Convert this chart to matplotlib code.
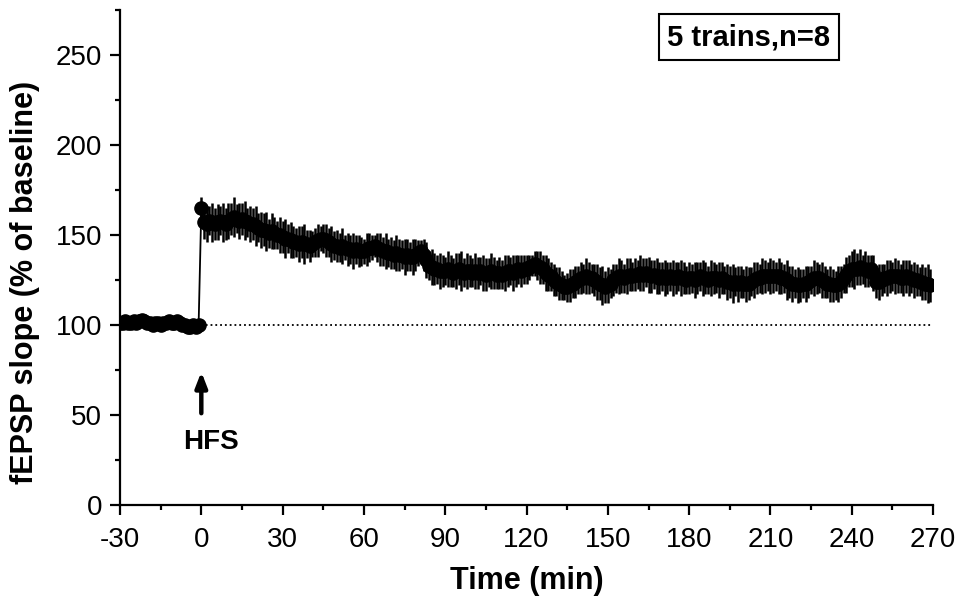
import numpy as np
import matplotlib
matplotlib.use('Agg')
import matplotlib.pyplot as plt
from matplotlib.ticker import MultipleLocator

plt.rcParams['font.family'] = ['Liberation Sans', 'DejaVu Sans']
plt.rcParams['axes.unicode_minus'] = False

# baseline, one point per minute (-30 .. -1)
base_time = list(range(-30, 0))
base_mean = [101, 101, 102, 101, 101, 102, 101, 102, 103, 102,
             101, 101, 100, 101, 101, 100, 101, 101, 102, 101,
             101, 102, 101, 100, 100, 99, 99, 100, 99, 100]
base_sem = [2, 3, 2, 3, 2, 2, 3, 2, 3, 2,
            2, 3, 2, 2, 3, 2, 2, 3, 2, 2,
            3, 2, 2, 3, 2, 3, 3, 2, 3, 2]

# after HFS, one point per minute (0 .. 269)
post_time = list(range(0, 270))
post_mean = [165, 157, 156, 158, 157, 156, 157, 158, 157, 156,
             158, 159, 160, 159, 158, 159, 158, 157, 156, 156,
             155, 154, 153, 153, 152, 151, 152, 151, 150, 150,
             149, 148, 148, 147, 146, 146, 145, 146, 145, 145,
             144, 145, 146, 147, 148, 148, 147, 146, 145, 144,
             144, 143, 144, 143, 142, 142, 141, 142, 141, 141,
             141, 142, 143, 143, 144, 143, 142, 141, 141, 140,
             140, 139, 140, 139, 139, 138, 139, 138, 138, 139,
             140, 141, 139, 136, 133, 132, 131, 131, 130, 130,
             130, 131, 130, 129, 130, 131, 130, 129, 130, 130,
             129, 130, 129, 130, 129, 128, 129, 130, 129, 128,
             129, 128, 129, 130, 130, 129, 130, 131, 130, 131,
             131, 132, 133, 134, 133, 132, 131, 129, 128, 127,
             125, 124, 123, 122, 121, 121, 122, 123, 124, 125,
             126, 126, 127, 126, 126, 125, 124, 123, 122, 121,
             122, 123, 125, 126, 127, 127, 126, 127, 128, 127,
             128, 128, 129, 128, 129, 128, 127, 128, 127, 126,
             127, 126, 126, 127, 126, 126, 127, 126, 126, 125,
             126, 126, 125, 126, 127, 126, 126, 125, 126, 126,
             126, 125, 126, 125, 124, 124, 123, 124, 123, 124,
             123, 123, 123, 124, 125, 126, 126, 127, 127, 127,
             127, 127, 127, 127, 126, 126, 125, 124, 123, 123,
             122, 122, 123, 123, 124, 125, 126, 126, 126, 125,
             124, 123, 123, 122, 122, 123, 124, 126, 128, 130,
             131, 131, 131, 132, 131, 131, 130, 131, 129, 124,
             124, 125, 126, 126, 127, 127, 127, 127, 126, 126,
             127, 126, 126, 125, 125, 124, 124, 123, 123, 122]
post_sem = [6, 9, 10, 8, 11, 9, 10, 8, 11, 9,
            10, 9, 11, 8, 10, 9, 11, 8, 10, 9,
            11, 8, 10, 9, 11, 8, 10, 9, 8, 10,
            9, 11, 8, 10, 9, 8, 10, 9, 11, 8,
            9, 7, 8, 9, 7, 8, 9, 8, 10, 8,
            9, 8, 10, 7, 9, 8, 10, 8, 9, 8,
            7, 9, 8, 7, 6, 8, 9, 8, 10, 8,
            9, 8, 10, 9, 8, 10, 9, 8, 10, 9,
            7, 6, 9, 10, 8, 10, 9, 8, 10, 9,
            8, 10, 9, 8, 10, 9, 11, 8, 10, 9,
            8, 10, 9, 8, 10, 9, 8, 10, 9, 8,
            9, 8, 10, 9, 8, 10, 9, 8, 9, 8,
            8, 7, 6, 7, 8, 9, 8, 10, 9, 8,
            9, 8, 9, 8, 7, 8, 9, 8, 9, 8,
            9, 8, 10, 9, 8, 9, 10, 9, 11, 9,
            10, 8, 9, 8, 10, 9, 8, 10, 9, 8,
            9, 8, 10, 9, 8, 10, 9, 8, 10, 9,
            8, 10, 9, 8, 10, 9, 8, 10, 9, 8,
            9, 8, 10, 9, 8, 10, 9, 8, 10, 9,
            8, 10, 9, 8, 10, 9, 11, 8, 10, 9,
            8, 10, 9, 8, 10, 9, 8, 10, 9, 8,
            10, 9, 8, 10, 9, 8, 11, 9, 10, 8,
            10, 9, 8, 10, 9, 8, 10, 9, 8, 10,
            9, 8, 10, 9, 8, 10, 9, 8, 10, 9,
            10, 11, 9, 10, 8, 10, 9, 8, 10, 9,
            10, 9, 8, 10, 9, 8, 10, 9, 8, 10,
            9, 10, 8, 10, 9, 8, 10, 9, 11, 9]

fig = plt.figure(figsize=(9.57, 6.0), dpi=100)
ax = fig.add_axes([0.1254, 0.1583, 0.8496, 0.825])

t_all = base_time + post_time
m_all = base_mean + post_mean
s_all = base_sem + post_sem
ax.errorbar(t_all, m_all, yerr=s_all, fmt='o-', color='black', ecolor='black',
            elinewidth=1.8, capsize=0, markersize=9.5, lw=1.3, zorder=3)

# baseline reference
ax.plot([0, 270], [100, 100], color='black', linestyle=':', lw=1.3, zorder=2)

# stimulus arrow
ax.annotate('', xy=(0, 74), xytext=(0, 51),
            arrowprops=dict(arrowstyle='-|>,head_width=0.35,head_length=0.9',
                            lw=3.2, color='black', shrinkA=0, shrinkB=0))
ax.text(3.5, 35, 'HFS', ha='center', va='center', fontsize=20, fontweight='bold')

ax.text(202, 260, '5 trains,n=8', ha='center', va='center', fontsize=21,
        fontweight='bold',
        bbox=dict(boxstyle='square,pad=0.3', fc='white', ec='black', lw=1.5))

ax.set_xlim(-30, 270)
ax.set_ylim(0, 275)
ax.xaxis.set_major_locator(MultipleLocator(30))
ax.xaxis.set_minor_locator(MultipleLocator(15))
ax.yaxis.set_major_locator(MultipleLocator(50))
ax.yaxis.set_minor_locator(MultipleLocator(25))
ax.spines['top'].set_visible(False)
ax.spines['right'].set_visible(False)
for sp in ['left', 'bottom']:
    ax.spines[sp].set_linewidth(1.6)
ax.tick_params(which='major', direction='out', length=7, width=1.6,
               labelsize=20, pad=6)
ax.tick_params(axis='x', which='major', pad=9)
ax.tick_params(which='minor', direction='out', length=3.5, width=1.6)

ax.set_xlabel('Time (min)', fontsize=22, fontweight='bold', labelpad=9)
ax.set_ylabel('fEPSP slope (% of baseline)', fontsize=22, fontweight='bold')
ax.yaxis.set_label_coords(-0.098, 0.45)

fig.savefig('out.png', dpi=100)
